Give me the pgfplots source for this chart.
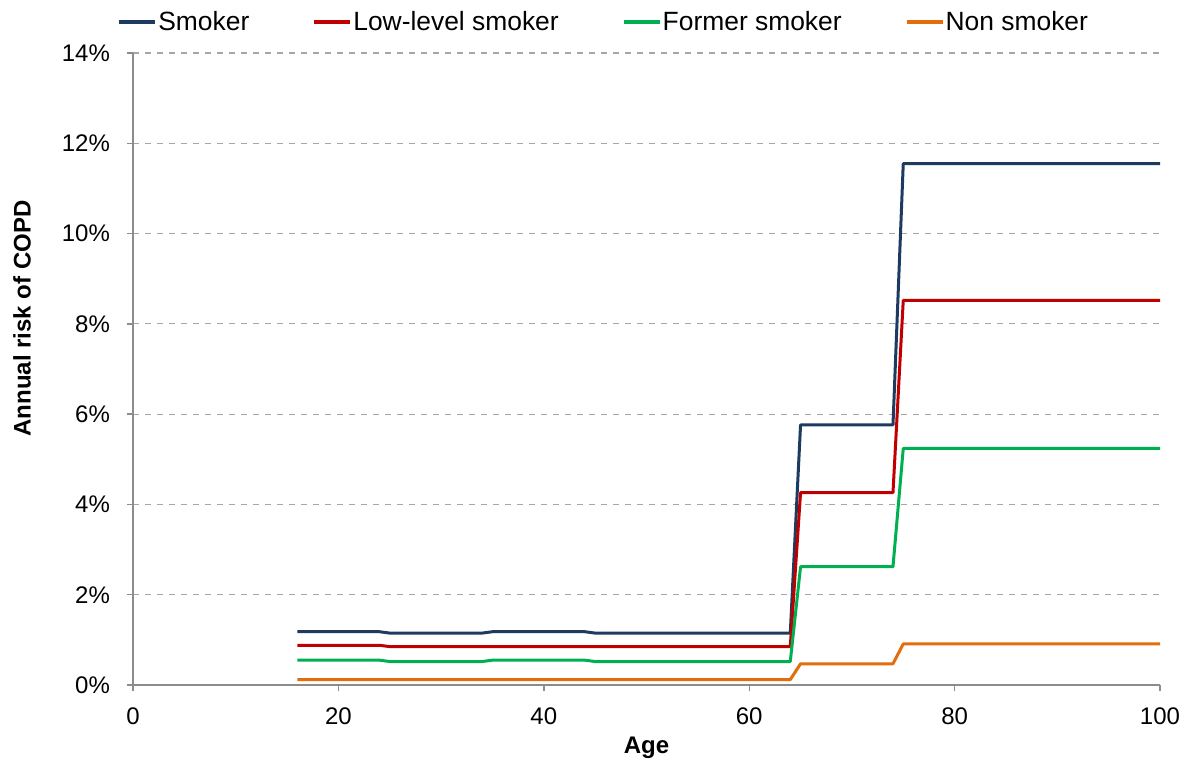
\documentclass[border=0pt]{standalone}
\usepackage{pgfplots}
\pgfplotsset{compat=1.18}
\usepackage{fontspec}
\setmainfont{Liberation Sans}

\definecolor{smoker}{HTML}{1F3A60}
\definecolor{lowlevel}{HTML}{C00000}
\definecolor{former}{HTML}{00B050}
\definecolor{nonsmoker}{HTML}{E46C0A}

\newcommand\lbl{\fontsize{12}{14.4}\selectfont}
\newcommand\leg{\fontsize{13.2}{15.8}\selectfont}

\begin{document}
\begin{tikzpicture}
\begin{axis}[
    scale only axis,
    width=513.5pt,
    height=316pt,
    xmin=0, xmax=100,
    ymin=0, ymax=14,
    xtick={0,20,...,100},
    ytick={0,2,...,14},
    /pgf/number format/assume math mode=true,
    yticklabel={\pgfmathprintnumber{\tick}\%},
    axis x line*=bottom,
    axis y line*=left,
    axis line style={-, draw=gray!90, line width=0.7pt},
    tick style={draw=gray!90, line width=0.7pt},
    tick align=outside,
    major tick length=3pt,
    ymajorgrids=true,
    grid style={dashed, gray!70, line width=0.6pt},
    tick label style={font=\lbl},
    x tick label style={yshift=-5pt},
    y tick label style={xshift=-5pt},
    xlabel={\textbf{Age}},
    ylabel={\textbf{Annual risk of COPD}},
    every axis x label/.style={at={(axis description cs:0.5,-0.0997)}, anchor=center, font=\lbl},
    every axis y label/.style={at={(axis description cs:-0.108,0.58)}, rotate=90, anchor=center, font=\lbl},
    legend columns=4,
    legend style={
        at={(axis description cs:-0.0156,1.049)}, anchor=west,
        draw=none, fill=none, inner sep=0pt, font=\leg,
        nodes={inner xsep=0.5pt},
        /tikz/every even column/.append style={column sep=31pt},
    },
    legend image code/.code={\draw[#1, line width=2pt] (0pt,0pt) -- (18pt,0pt);},
    every axis plot/.append style={line width=1.5pt, line join=round},
]
\addplot[smoker] coordinates {
    (16,1.18)(24,1.18)(25,1.15)(34,1.15)(35,1.18)(44,1.18)(45,1.15)(64,1.15)
    (65,5.76)(74,5.76)(75,11.55)(100,11.55)
};
\addplot[lowlevel] coordinates {
    (16,0.88)(24,0.88)(25,0.85)(64,0.85)
    (65,4.26)(74,4.26)(75,8.52)(100,8.52)
};
\addplot[former] coordinates {
    (16,0.55)(24,0.55)(25,0.52)(34,0.52)(35,0.55)(44,0.55)(45,0.52)(64,0.52)
    (65,2.62)(74,2.62)(75,5.24)(100,5.24)
};
\addplot[nonsmoker] coordinates {
    (16,0.12)(64,0.12)(65,0.47)(74,0.47)(75,0.91)(100,0.91)
};
\legend{Smoker, Low-level smoker, Former smoker, Non smoker}
\end{axis}
\pgfresetboundingbox
\path ([shift={(-66.5pt,-40pt)}]current axis.south west)
      rectangle ([shift={(16pt,26.5pt)}]current axis.north east);
\end{tikzpicture}
\end{document}
